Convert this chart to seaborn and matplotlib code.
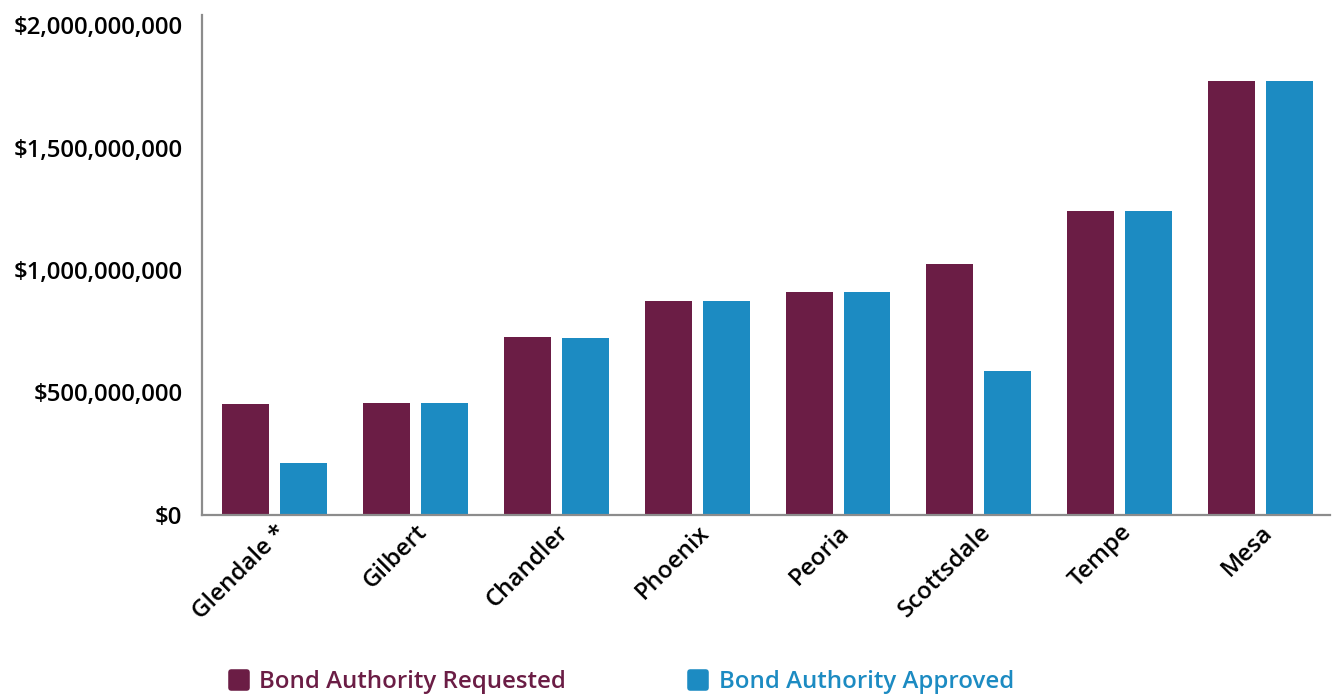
import pandas as pd
import seaborn as sns
import matplotlib.pyplot as plt
from matplotlib.lines import Line2D
from matplotlib.markers import MarkerStyle
from matplotlib.ticker import FuncFormatter

cities = ['Glendale *', 'Gilbert', 'Chandler', 'Phoenix', 'Peoria', 'Scottsdale', 'Tempe', 'Mesa']
requested = [453e6, 457e6, 727e6, 873e6, 910e6, 1024e6, 1241e6, 1771e6]
approved = [212e6, 457e6, 722e6, 873e6, 910e6, 588e6, 1241e6, 1771e6]
series = ['Bond Authority Requested', 'Bond Authority Approved']
colors = ['#6b1d45', '#1c8bc2']

df = pd.DataFrame({'City': cities * 2,
                   'Amount': requested + approved,
                   'Series': [series[0]] * len(cities) + [series[1]] * len(cities)})

sns.set_theme(style="white")
plt.rcParams['font.family'] = ['Open Sans', 'DejaVu Sans']

fig = plt.figure(figsize=(13.33, 6.94), dpi=100)
ax = fig.add_axes([0.1515, 0.258, 0.846, 0.72])
sns.barplot(data=df, x='City', y='Amount', hue='Series', palette=colors,
            width=0.823, gap=0.19, legend=False, ax=ax, saturation=1, linewidth=0)

ax.set_ylim(0, 2.04e9)
ax.set_xlim(-0.515, 7.49)
ax.set_yticks([0, 5e8, 1e9, 1.5e9, 2e9])
ax.yaxis.set_major_formatter(FuncFormatter(lambda v, p: '${:,.0f}'.format(v)))
ax.set(xlabel=None, ylabel=None)
ax.tick_params(axis='both', length=0, labelsize=17.3, colors='black')
ax.tick_params(axis='y', pad=14)
ax.tick_params(axis='x', pad=4)
for lab in ax.get_yticklabels():
    lab.set_fontweight('semibold')
for lab in ax.get_xticklabels():
    lab.set_fontweight('semibold')
    lab.set_rotation(45)
    lab.set_ha('right')
    lab.set_rotation_mode('anchor')

sns.despine(ax=ax)
for s in ['left', 'bottom']:
    ax.spines[s].set_color('#8c8c8c')
    ax.spines[s].set_linewidth(1.6)

handles = [Line2D([], [], marker=MarkerStyle('s', joinstyle='round'), linestyle='none',
                  markersize=11, markeredgewidth=4,
                  markerfacecolor=c, markeredgecolor=c) for c in colors]
leg = fig.legend(handles, series, loc='center left', bbox_to_anchor=(0.154, 0.017),
                 ncol=2, frameon=False, fontsize=17.3, columnspacing=5.0,
                 handletextpad=0.35, handlelength=1.0)
for t, c in zip(leg.get_texts(), colors):
    t.set_color(c)
    t.set_fontweight('semibold')

fig.savefig('out.png', dpi=100)
